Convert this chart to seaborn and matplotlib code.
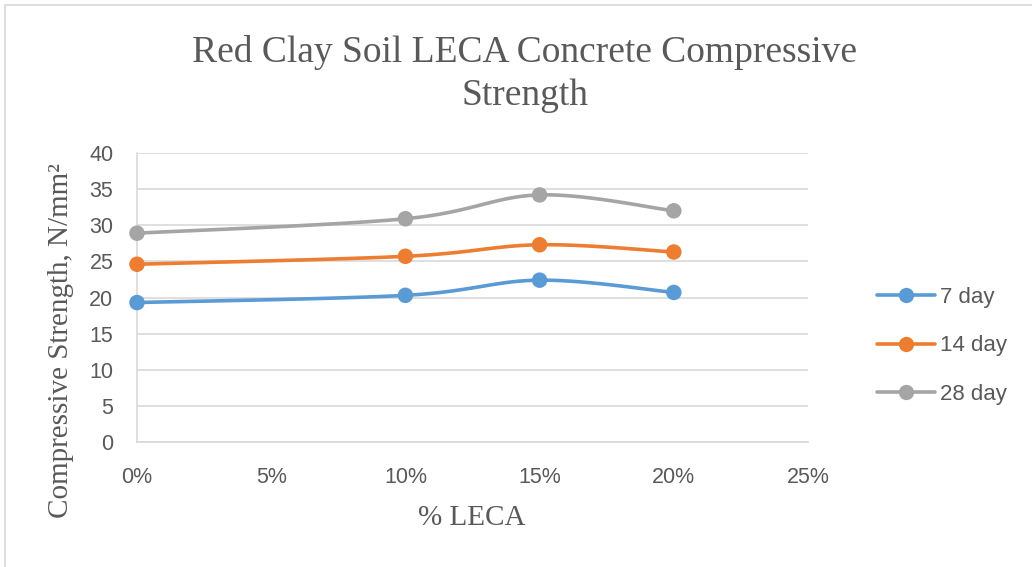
import numpy as np
import pandas as pd
import matplotlib
matplotlib.use("Agg")
import matplotlib.pyplot as plt
import seaborn as sns
from matplotlib.lines import Line2D
from matplotlib.patches import Rectangle

# LECA replacement (%) and compressive strength (N/mm²) at each curing age
leca_pct = [0, 10, 15, 20]
strength_7 = [19.3, 20.3, 22.4, 20.7]
strength_14 = [24.6, 25.7, 27.3, 26.3]
strength_28 = [28.9, 30.9, 34.2, 32.0]
series_names = ["7 day", "14 day", "28 day"]
series_colors = ["#5B9BD5", "#ED7D31", "#A5A5A5"]
x_ticks = [0, 5, 10, 15, 20, 25]
y_ticks = [0, 5, 10, 15, 20, 25, 30, 35, 40]

df = pd.DataFrame({
    "leca": leca_pct * 3,
    "strength": strength_7 + strength_14 + strength_28,
    "age": [n for n in series_names for _ in leca_pct],
})

sns.set_theme(style="white")
plt.rcParams["font.family"] = ["Liberation Sans", "DejaVu Sans"]

W, H = 1032, 567
fig = plt.figure(figsize=(W / 100, H / 100), dpi=100)
ax = fig.add_axes([137 / W, 1 - 442 / H, (808 - 137) / W, (442 - 153) / H])

# chart frame
fig.patches.append(Rectangle((5 / W, -0.01), 1.02, 1 - 5 / H + 0.01,
                             transform=fig.transFigure, fill=False,
                             edgecolor="#D9D9D9", linewidth=1.2))


def smooth_curve(xs, ys, n=40):
    """Catmull-Rom style smoothing through the points (Excel-like smoothed line)."""
    sx, sy = 25.0, 40.0
    pts = np.column_stack([np.asarray(xs) / sx, np.asarray(ys) / sy])
    pts = np.vstack([pts[0], pts, pts[-1]])
    out = []
    for i in range(1, len(pts) - 2):
        p0, p1, p2, p3 = pts[i - 1], pts[i], pts[i + 1], pts[i + 2]
        t = np.linspace(0, 1, n)[:, None]
        seg = 0.5 * ((2 * p1) + (-p0 + p2) * t + (2 * p0 - 5 * p1 + 4 * p2 - p3) * t ** 2
                     + (-p0 + 3 * p1 - 3 * p2 + p3) * t ** 3)
        out.append(seg)
    out = np.vstack(out)
    return out[:, 0] * sx, out[:, 1] * sy


for name, color in zip(series_names, series_colors):
    sub = df[df["age"] == name]
    cx, cy = smooth_curve(sub["leca"].values, sub["strength"].values)
    ax.plot(cx, cy, color=color, linewidth=2.6, solid_capstyle="round", zorder=3)

sns.scatterplot(data=df, x="leca", y="strength", hue="age", palette=series_colors,
                s=125, edgecolor="none", legend=False, ax=ax, zorder=4, clip_on=False)

ax.set_xlim(0, 25)
ax.set_ylim(0, 40)
ax.set_xticks(x_ticks)
ax.set_xticklabels([f"{t}%" for t in x_ticks])
ax.set_yticks(y_ticks)
ax.yaxis.grid(True, color="#D9D9D9", linewidth=1.2)
ax.set_axisbelow(True)
for side in ["top", "right"]:
    ax.spines[side].set_visible(False)
for side in ["left", "bottom"]:
    ax.spines[side].set_color("#D9D9D9")
    ax.spines[side].set_linewidth(1.2)
ax.tick_params(axis="both", length=0, labelsize=15.5, labelcolor="#595959")
ax.tick_params(axis="x", pad=18)
ax.tick_params(axis="y", pad=17)
ax.set_xlabel("")
ax.set_ylabel("")

serif = ["Liberation Serif", "DejaVu Serif"]
fig.text(472 / W, 1 - 518 / H, "% LECA", ha="center", va="center", family=serif,
         fontsize=21, color="#595959")
fig.text(61 / W, 1 - 341 / H, "Compressive Strength, N/mm²", ha="center", va="center",
         rotation=90, family=serif, fontsize=21, color="#595959")

fig.text(525 / W, 1 - 52 / H, "Red Clay Soil LECA Concrete Compressive", ha="center",
         va="center", family=serif, fontsize=27, color="#595959")
fig.text(525 / W, 1 - 96 / H, "Strength", ha="center", va="center",
         family=serif, fontsize=27, color="#595959")

handles = [Line2D([0], [0], color=c, linewidth=2.6, marker="o", markersize=11,
                  markeredgewidth=0) for c in series_colors]
fig.legend(handles, series_names, loc="center left", bbox_to_anchor=(877 / W, 1 - 346 / H),
           frameon=False, fontsize=16, labelcolor="#595959", handlelength=2.6,
           handletextpad=0.25, labelspacing=1.25, borderpad=0, borderaxespad=0)

fig.savefig("out.png", dpi=100)
